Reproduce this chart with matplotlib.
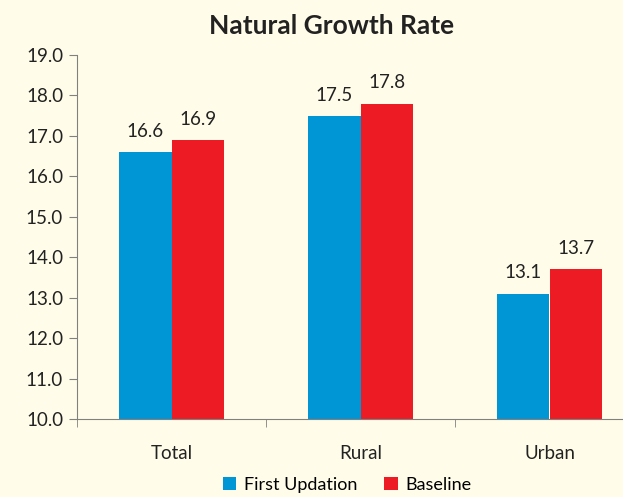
import matplotlib.pyplot as plt
import numpy as np

# data
categories = ["Total", "Rural", "Urban"]
first_updation = [16.6, 17.5, 13.1]
baseline = [16.9, 17.8, 13.7]
y_ticks = [10.0, 11.0, 12.0, 13.0, 14.0, 15.0, 16.0, 17.0, 18.0, 19.0]

BG = "#FFFDE9"
BLUE = "#0096D6"
RED = "#ED1C24"
TXT = "#222222"

plt.rcParams["font.family"] = ["Lato", "DejaVu Sans"]

fig = plt.figure(figsize=(6.23, 4.97), dpi=100, facecolor=BG)
ax = fig.add_axes([77 / 623, 78 / 497, 567 / 623, 364 / 497], facecolor=BG)

x = np.arange(len(categories))
w = 0.28
b1 = ax.bar(x - w / 2, first_updation, w, color=BLUE, label="First Updation")
b2 = ax.bar(x + w / 2, baseline, w, color=RED, label="Baseline")

for bars, vals in ((b1, first_updation), (b2, baseline)):
    for r, v in zip(bars, vals):
        ax.text(r.get_x() + r.get_width() / 2, v + 0.3, f"{v:.1f}",
                ha="center", va="bottom", fontsize=13.5, color=TXT)

ax.set_ylim(10, 19)
ax.set_xlim(-0.5, 2.5)
ax.set_yticks(y_ticks)
ax.set_yticklabels([f"{t:.1f}" for t in y_ticks])
ax.set_xticks(x)
ax.set_xticklabels(categories)
ax.set_xticks([-0.5, 0.5, 1.5, 2.5], minor=True)
ax.tick_params(axis="x", which="major", length=0, pad=19, labelsize=13.5, colors=TXT)
ax.tick_params(axis="x", which="minor", length=6, color="#808080", direction="out")
ax.tick_params(axis="y", length=6, color="#808080", labelsize=13.5, colors=TXT, pad=4)

for s in ("top", "right"):
    ax.spines[s].set_visible(False)
for s in ("left", "bottom"):
    ax.spines[s].set_color("#808080")

fig.text(0.533, 0.947, "Natural Growth Rate", ha="center", va="center",
         fontsize=19, fontweight="bold", color=TXT)

fig.legend(handles=[b1, b2], loc="center", bbox_to_anchor=(0.557, 0.024),
           ncol=2, frameon=False, fontsize=13, handlelength=0.75,
           handleheight=0.75, handletextpad=0.4, columnspacing=1.5,
           borderpad=0.1)

fig.savefig("out.png", dpi=100, facecolor=BG)
